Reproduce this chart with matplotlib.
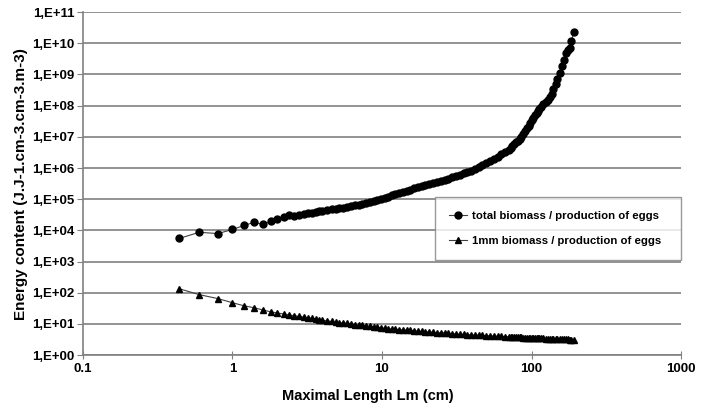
import math
import matplotlib.pyplot as plt
from matplotlib.ticker import FuncFormatter, FixedLocator

plt.rcParams['font.family'] = ['Liberation Sans', 'DejaVu Sans']
plt.rcParams['font.weight'] = 'bold'

# Maximal length Lm (cm)
length_cm = [0.44, 0.6, 0.8, 1.0, 1.2, 1.4, 1.6, 1.8, 2.0, 2.2, 2.4, 2.6, 2.8, 3.0,
             3.2, 3.4, 3.6, 3.8, 4.0, 4.3, 4.6, 4.9, 5.2, 5.5, 5.8, 6.2, 6.6, 7.0,
             7.4, 7.8, 8.3, 8.8, 9.3, 9.8, 10.4, 11, 11.6, 12.3, 13, 13.8, 14.6,
             15.5, 16.4, 17.4, 18.4, 19.5, 20.7, 22, 23.3, 24.7, 26.2, 27.8, 29.5,
             31.3, 33.2, 35.2, 37.3, 39.5, 41.9, 44.4, 47, 49.8, 52.8, 56, 59.3,
             62.8, 66.5, 70.4, 72.4, 74.5, 76.6, 78.8, 81, 83.3, 85.6, 88, 90.5, 93,
             95.5, 98, 100.5, 103, 105.5, 108, 110, 112, 116,
             120, 124, 128, 132, 136, 140, 145, 149, 154, 159, 164, 169, 175, 180,
             185, 191]

# total biomass / production of eggs
total_biomass = [5.5e3, 8.7e3, 7.9e3, 1.07e4, 1.45e4, 1.82e4, 1.55e4, 1.95e4, 2.24e4,
                 2.63e4, 3.02e4, 2.82e4, 3.16e4, 3.39e4, 3.55e4, 3.72e4, 3.89e4, 4.07e4,
                 4.27e4, 4.47e4, 4.68e4, 4.9e4, 5.13e4, 5.37e4, 5.62e4, 5.89e4, 6.31e4,
                 6.76e4, 7.24e4, 7.76e4, 8.32e4, 8.91e4, 9.33e4, 1.0e5, 1.10e5, 1.20e5,
                 1.32e5, 1.45e5, 1.58e5, 1.74e5, 1.86e5, 2.04e5, 2.24e5, 2.45e5, 2.63e5,
                 2.82e5, 3.09e5, 3.31e5, 3.63e5, 3.89e5, 4.17e5, 4.57e5, 5.01e5, 5.50e5,
                 6.17e5, 6.76e5, 7.41e5, 8.13e5, 9.55e5, 1.10e6, 1.26e6, 1.45e6, 1.70e6,
                 2.0e6, 2.34e6, 2.75e6, 3.24e6, 3.80e6, 4.37e6, 5.01e6, 5.75e6, 6.61e6,
                 7.41e6, 8.51e6, 1.02e7, 1.23e7, 1.51e7, 1.86e7, 2.29e7, 2.82e7, 3.47e7,
                 4.17e7, 5.01e7, 5.89e7, 6.76e7, 7.59e7, 9.12e7, 1.10e8, 1.29e8, 1.55e8,
                 1.95e8, 2.40e8, 3.31e8, 4.79e8, 7.41e8, 1.15e9, 1.82e9, 3.02e9, 4.79e9,
                 6.03e9, 7.24e9, 1.15e10, 2.24e10]

# 1mm biomass / production of eggs
mm_biomass = [135, 87, 65, 48, 38, 33, 28, 24.5, 22.4, 20.9, 19.5, 18.2, 17.4, 16.6,
              15.8, 15.1, 14.5, 13.8, 13.2, 12.6, 12.0, 11.5, 11.0, 10.7, 10.5, 10.0,
              9.55, 9.12, 8.91, 8.71, 8.32, 8.13, 7.76, 7.59, 7.24, 7.08, 6.92, 6.76,
              6.61, 6.46, 6.31, 6.17, 6.03, 5.89, 5.75, 5.62, 5.50, 5.37, 5.25, 5.19,
              5.13, 5.01, 4.90, 4.79, 4.68, 4.62, 4.57, 4.47, 4.42, 4.37, 4.27, 4.22,
              4.17, 4.07, 4.03, 3.98, 3.94, 3.89, 3.86, 3.85, 3.82, 3.80, 3.76, 3.72,
              3.69, 3.67, 3.65, 3.63, 3.61, 3.59, 3.56, 3.55, 3.52, 3.51, 3.48, 3.47,
              3.44, 3.42, 3.40, 3.37, 3.35, 3.33, 3.31, 3.29, 3.27,
              3.24, 3.22, 3.21, 3.19, 3.18, 3.16, 3.15, 3.13]

fig = plt.figure(figsize=(7.08, 4.04), dpi=100)
ax = fig.add_axes([0.117, 0.121, 0.845, 0.849])

ax.plot(length_cm, total_biomass, color='#404040', lw=0.8, marker='o', ms=5,
        mfc='black', mec='black', label='total biomass / production of eggs')
ax.plot(length_cm, mm_biomass, color='#404040', lw=0.8, marker='^', ms=5,
        mfc='black', mec='black', label='1mm biomass / production of eggs')

ax.set_xscale('log')
ax.set_yscale('log')
ax.set_xlim(0.1, 1000)
ax.set_ylim(1, 1e11)

ax.xaxis.set_major_locator(FixedLocator([0.1, 1, 10, 100, 1000]))
ax.xaxis.set_major_formatter(FuncFormatter(lambda v, p: '%g' % v))
ax.xaxis.set_minor_locator(FixedLocator([]))
ax.yaxis.set_major_locator(FixedLocator([10.0 ** e for e in range(12)]))
ax.yaxis.set_major_formatter(FuncFormatter(lambda v, p: '1,E+%02d' % round(math.log10(v))))
ax.yaxis.set_minor_locator(FixedLocator([]))

ax.grid(True, axis='y', color='#808080', lw=1.2)
ax.set_axisbelow(True)
for s in ['top', 'right']:
    ax.spines[s].set_visible(False)
for s in ['left', 'bottom']:
    ax.spines[s].set_color('#808080')
    ax.spines[s].set_linewidth(1.2)

ax.tick_params(axis='y', direction='out', length=4, color='#808080', labelsize=9.5, pad=2)
ax.tick_params(axis='x', direction='inout', length=6, color='#808080', labelsize=9.5, pad=3)

ax.set_xlabel('Maximal Length Lm (cm)', fontsize=10.5, fontweight='bold')
ax.xaxis.set_label_coords(0.477, -0.098)
ax.set_ylabel('Energy content (J.J-1.cm-3.cm-3.m-3)', fontsize=11, fontweight='bold', labelpad=3)

leg = ax.legend(loc='upper left', bbox_to_anchor=(0.589, 0.271, 0.411, 0.19), mode='expand',
                borderaxespad=0, fontsize=8.2, frameon=True, fancybox=False,
                handlelength=1.6, handletextpad=0.4, labelspacing=1.35, borderpad=1.2)
leg.get_frame().set_edgecolor('#808080')
leg.get_frame().set_linewidth(1.0)

fig.savefig('out.png', dpi=100)
